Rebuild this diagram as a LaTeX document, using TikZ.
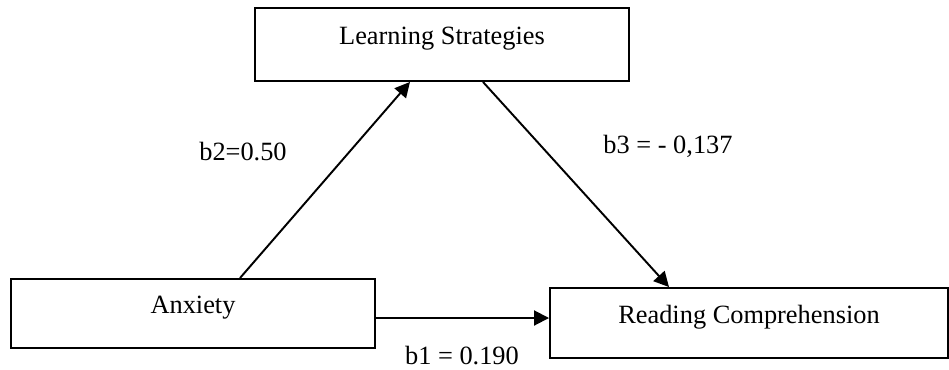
\documentclass[tikz,border=0pt]{standalone}
\usepackage{fontspec}
\setmainfont{Liberation Serif}
\usetikzlibrary{arrows.meta}

\begin{document}
\begin{tikzpicture}[
    every node/.style={font=\fontsize{15}{18}\selectfont},
    box/.style={draw, line width=1.1pt, inner sep=0pt, text height=0.3cm, text depth=0.3cm},
    coef/.style={anchor=base, inner sep=0pt},
    line width=1.1pt,
    ->, >={Triangle[length=0.3cm, width=0.3cm]}
  ]
  \useasboundingbox (0,0) rectangle (18.98,-7.38);

  % Nodos
  \node[box, minimum width=7.48cm, minimum height=1.46cm] (strategies) at (8.84,-0.89) {Learning Strategies};
  \node[box, minimum width=7.28cm, minimum height=1.38cm] (anxiety) at (3.86,-6.27) {Anxiety};
  \node[box, minimum width=7.96cm, minimum height=1.40cm] (reading) at (14.98,-6.46) {Reading Comprehension};

  \node[coef] (b2) at (4.86,-3.20) {b2=0.50};
  \node[coef] (b3) at (13.36,-3.06) {b3 = - 0,137};
  \node[coef] (b1) at (9.24,-7.28) {b1 = 0.190};

  % Flechas
  \draw ([xshift=0.94cm]anxiety.north) -- ([xshift=-0.64cm]strategies.south);
  \draw ([xshift=0.82cm]strategies.south) -- ([xshift=-1.60cm]reading.north);
  \draw ([yshift=-0.09cm]anxiety.east) -- ([yshift=0.10cm]reading.west);

\end{tikzpicture}
\end{document}
